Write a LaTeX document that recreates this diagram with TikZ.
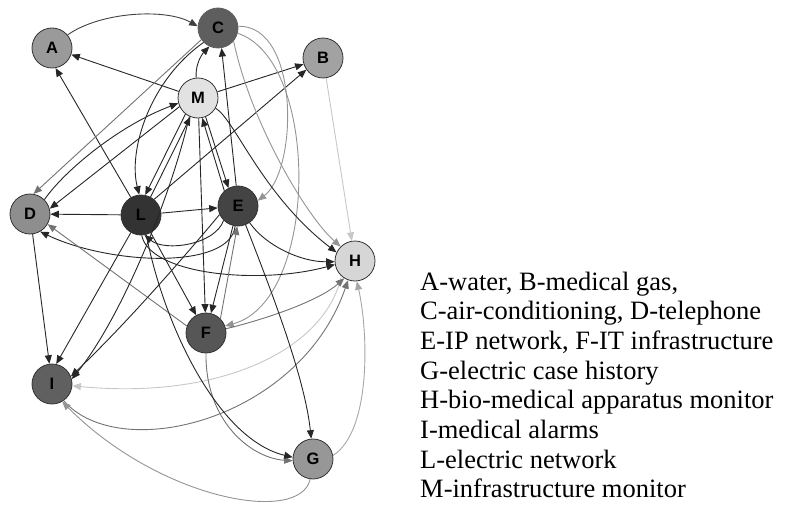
\documentclass[tikz,border=0pt]{standalone}
\usepackage{fontspec}
\setmainfont{Liberation Serif}
\newfontfamily\nodefont{Liberation Sans}
\usetikzlibrary{arrows.meta}
\definecolor{cA}{HTML}{9A9A9A}
\definecolor{cB}{HTML}{A2A2A2}
\definecolor{cC}{HTML}{5E5E5E}
\definecolor{cD}{HTML}{8E8E8E}
\definecolor{cE}{HTML}{444444}
\definecolor{cF}{HTML}{565656}
\definecolor{cG}{HTML}{979797}
\definecolor{cH}{HTML}{D6D6D6}
\definecolor{cI}{HTML}{606060}
\definecolor{cL}{HTML}{333333}
\definecolor{cM}{HTML}{E2E2E2}
\begin{document}
\begin{tikzpicture}[x=1pt,y=-1pt,
  vtx/.style={circle,draw=black!80,line width=0.8pt,minimum size=40pt,inner sep=0pt,
    font=\nodefont\bfseries\fontsize{16.5}{16.5}\selectfont},
  tip/.style={-{Triangle[length=8.5pt,width=7pt]}},
  dk/.style={tip,draw=black!85,line width=0.9pt},
  gr/.style={tip,draw=black!55,line width=0.9pt},
  gl/.style={tip,draw=black!42,line width=0.9pt},
  lt/.style={tip,draw=black!22,line width=0.9pt},
  legend/.style={anchor=base west,inner sep=0pt,font=\fontsize{26.5}{29.7}\selectfont}
]
\useasboundingbox (0,0) rectangle (786,508);

% nodes
\node[vtx,fill=cA] (A) at (52,48) {A};
\node[vtx,fill=cC,draw=cC] (C) at (218,28) {C};
\node[vtx,fill=cB] (B) at (323,58) {B};
\node[vtx,fill=cM] (M) at (198,98) {M};
\node[vtx,fill=cD] (D) at (30,214) {D};
\node[vtx,fill=cL] (L) at (141,215) {L};
\node[vtx,fill=cE] (E) at (238,206) {E};
\node[vtx,fill=cH] (H) at (355,261) {H};
\node[vtx,fill=cF] (F) at (206,333) {F};
\node[vtx,fill=cI] (I) at (52,384) {I};
\node[vtx,fill=cG] (G) at (313,459) {G};

% top part
\draw[dk,draw=black!75] (A.40) .. controls (100,12) and (165,8) .. (C.175);
\draw[dk] (M) -- (A);
\draw[dk] (L.120) -- (A.280);
\draw[dk] (M) -- (B);
\draw[dk] (L.50) -- (B.215);
\draw[dk] (M.95) .. controls (195,62) and (204,52) .. (C.245);
\draw[dk] (E.95) -- (C.280);
\draw[gr] (C.215) -- (D.80);
\draw[dk] (C.225) .. controls (150,80) and (128,150) .. (L.95);
\draw[gl] (C.5) .. controls (300,25) and (298,170) .. (E.15);
\draw[gl] (C.320) .. controls (250,120) and (305,215) .. (H.135);
\draw[gl] (C.345) .. controls (320,60) and (320,300) .. (F.20);
\draw[lt] (B) -- (H);

% M <-> L, M <-> E, M <-> D
\draw[dk] (M.232) -- (L.78);
\draw[dk] (L.62) -- (M.248);
\draw[dk] (M.292) -- (E.118);
\draw[dk] (E.132) -- (M.282);
\draw[dk] (M.205) -- (D.15);
\draw[dk] (D.45) .. controls (65,170) and (120,125) .. (M.195);

% L, E, D
\draw[dk] (L) -- (D);
\draw[dk] (L) -- (E);
\draw[dk] (E.225) .. controls (215,245) and (165,252) .. (L.280);
\draw[dk] (E.262) .. controls (230,270) and (110,265) .. (D.300);

% into H
\draw[dk] (L.272) .. controls (150,275) and (260,285) .. (H.190);
\draw[dk] (M.330) .. controls (235,120) and (262,195) .. (H.155);
\draw[dk] (E.305) .. controls (265,245) and (300,262) .. (H.182);

% into F
\draw[dk] (E) -- (F);
\draw[gr] (F.45) -- (E.268);
\draw[dk] (M) -- (F);
\draw[dk] (L) -- (F);
\draw[gr] (F.160) -- (D.330);

% into I
\draw[dk] (L.240) -- (I.78);
\draw[dk] (D) -- (I);
\draw[dk] (E.205) .. controls (190,250) and (130,320) .. (I.22);
\draw[dk] (M.245) .. controls (170,200) and (120,320) .. (I.14);
\draw[lt] (H.228) .. controls (325,350) and (220,400) .. (I.355);
\draw[gr] (I.305) .. controls (120,465) and (300,420) .. (H.250);
\draw[gl] (G.262) .. controls (300,525) and (160,500) .. (I.300);

% G and H
\draw[lt,draw=black!35] (G.10) .. controls (372,430) and (368,330) .. (H.275);
\draw[gr] (F.12) .. controls (270,318) and (320,300) .. (H.238);
\draw[gr] (F.270) .. controls (205,420) and (250,458) .. (G.185);
\draw[dk] (L.285) .. controls (165,330) and (220,440) .. (G.175);
\draw[dk] (E.292) .. controls (275,300) and (305,380) .. (G.95);

% legend
\node[legend] (l1) at (420,290.0) {A-water, B-medical gas,};
\node[legend] (l2) at (420,319.7) {C-air-conditioning, D-telephone};
\node[legend] (l3) at (420,349.4) {E-IP network, F-IT infrastructure};
\node[legend] (l4) at (420,379.1) {G-electric case history};
\node[legend] (l5) at (420,408.8) {H-bio-medical apparatus monitor};
\node[legend] (l6) at (420,438.5) {I-medical alarms};
\node[legend] (l7) at (420,468.2) {L-electric network};
\node[legend] (l8) at (420,497.9) {M-infrastructure monitor};
\end{tikzpicture}
\end{document}
